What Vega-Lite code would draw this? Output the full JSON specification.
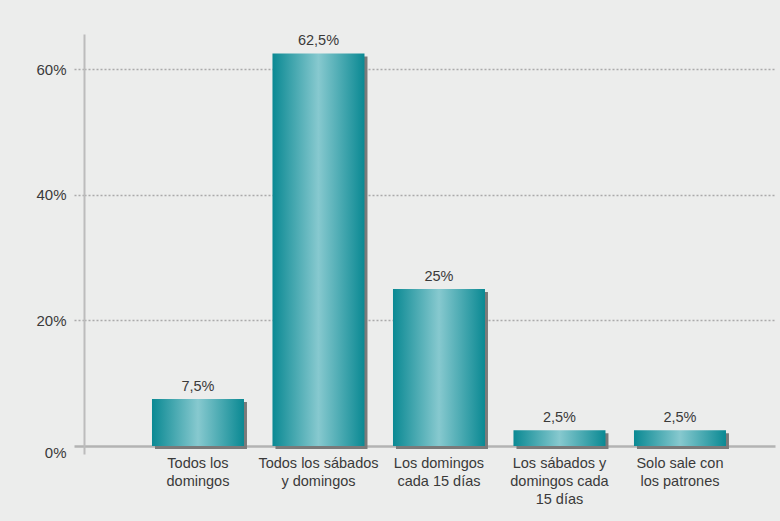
{
  "$schema": "https://vega.github.io/schema/vega-lite/v6.json",
  "autosize": "none",
  "width": 691,
  "height": 420,
  "padding": {"left": 84, "top": 34, "right": 5, "bottom": 67},
  "background": "#ecedec",
  "config": {
    "view": {"stroke": null},
    "locale": {"number": {"decimal": ",", "thousands": ".", "grouping": [3], "currency": ["", " €"]}},
    "font": "Liberation Sans",
    "text": {"font": "Liberation Sans"}
  },
  "data": {
    "values": [
      {"categoria": "Todos los\ndomingos", "valor": 0.075},
      {"categoria": "Todos los sábados\ny domingos", "valor": 0.625},
      {"categoria": "Los domingos\ncada 15 días", "valor": 0.25},
      {"categoria": "Los sábados y\ndomingos cada\n15 días", "valor": 0.025},
      {"categoria": "Solo sale con\nlos patrones", "valor": 0.025}
    ]
  },
  "encoding": {
    "x": {
      "field": "categoria",
      "type": "nominal",
      "sort": null,
      "scale": {"paddingInner": 0.2365, "paddingOuter": 0.4855, "align": 0.581},
      "axis": {
        "title": null,
        "domain": false,
        "ticks": false,
        "labelAngle": 0,
        "labelExpr": "split(datum.label, '\\n')",
        "labelFontSize": 14.5,
        "labelLineHeight": 18,
        "labelColor": "#3a3a3a",
        "labelBaseline": "top",
        "labelPadding": 2,
        "labelLimit": 200
      }
    },
    "y": {
      "field": "valor",
      "type": "quantitative",
      "scale": {"domain": [-0.0127, 0.656], "nice": false, "zero": false},
      "axis": {
        "title": null,
        "values": [0, 0.2, 0.4, 0.6],
        "format": ".0%",
        "domainColor": "#bcbcbc",
        "domainWidth": 2,
        "tickSize": 10,
        "tickColor": {"condition": {"test": "datum.value === 0", "value": "#b3b3b3"}, "value": "#aaaaaa"},
        "tickWidth": {"condition": {"test": "datum.value === 0", "value": 2.5}, "value": 1.5},
        "tickDash": {"condition": {"test": "datum.value === 0", "value": []}, "value": [2, 2]},
        "grid": true,
        "gridColor": {"condition": {"test": "datum.value === 0", "value": "#b3b3b3"}, "value": "#aaaaaa"},
        "gridWidth": {"condition": {"test": "datum.value === 0", "value": 2.5}, "value": 1.5},
        "gridDash": {"condition": {"test": "datum.value === 0", "value": []}, "value": [2, 2]},
        "labelFontSize": 15,
        "labelColor": "#3a3a3a",
        "labelPadding": 8,
        "labelOffset": {"condition": {"test": "datum.value === 0", "value": 6}, "value": 0}
      }
    }
  },
  "layer": [
    {
      "mark": {"type": "bar", "color": "#7a7a7a", "xOffset": 3, "yOffset": 3}
    },
    {
      "mark": {
        "type": "bar",
        "color": {
          "gradient": "linear",
          "x1": 0, "x2": 1, "y1": 0, "y2": 0,
          "stops": [
            {"offset": 0, "color": "#0a8993"},
            {"offset": 0.5, "color": "#87c9cf"},
            {"offset": 1, "color": "#0a8993"}
          ]
        }
      }
    },
    {
      "mark": {"type": "text", "baseline": "bottom", "dy": -5, "fontSize": 14.5, "color": "#3a3a3a"},
      "encoding": {
        "text": {"field": "valor", "type": "quantitative", "format": ".1~%"}
      }
    }
  ]
}
